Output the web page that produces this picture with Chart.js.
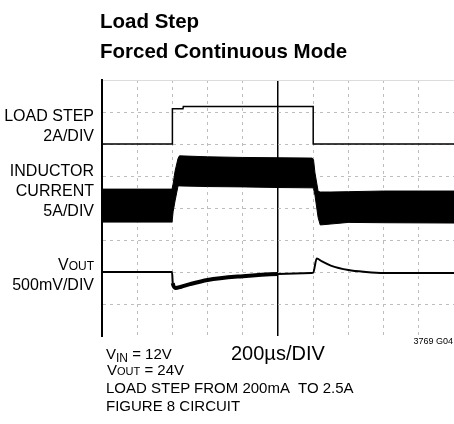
<!DOCTYPE html>
<html>
<head>
<meta charset="utf-8">
<script src="https://cdn.jsdelivr.net/npm/chart.js"></script>
<style>
    body { margin: 0; background: #fff; }
    #wrap { position: relative; width: 454px; height: 424px; font-family: "Liberation Sans", Arial, sans-serif; color: #000; }
    #wrap canvas { position: absolute; left: 0; top: 0; }
    .t { position: absolute; line-height: 1; white-space: nowrap; }
    .lbl { left: 0; width: 94px; text-align: right; font-size: 16px; }
    .sm { font-size: 12px; }
</style>
</head>
<body>
<div id="wrap">
    <canvas id="scope" width="454" height="424"></canvas>

    <div class="t" style="left:100px; top:10.6px; font-size:20.5px; font-weight:bold;">Load Step</div>
    <div class="t" style="left:100px; top:40.6px; font-size:20.5px; font-weight:bold;">Forced Continuous Mode</div>

    <div class="t lbl" style="top:107.5px;">LOAD STEP</div>
    <div class="t lbl" style="top:127.5px;">2A/DIV</div>
    <div class="t lbl" style="top:162.5px;">INDUCTOR</div>
    <div class="t lbl" style="top:182.5px;">CURRENT</div>
    <div class="t lbl" style="top:202.5px;">5A/DIV</div>
    <div class="t lbl" style="top:256.5px;">V<span class="sm">OUT</span></div>
    <div class="t lbl" style="top:276.5px;">500mV/DIV</div>

    <div class="t" style="left:106px; top:346.3px; font-size:15px;">V<sub style="font-size:12px; vertical-align:-3px;">IN</sub> = 12V</div>
    <div class="t" style="left:107px; top:362.3px; font-size:15px;">V<span style="font-size:11px;">OUT</span> = 24V</div>
    <div class="t" style="left:106px; top:380.3px; font-size:15px;">LOAD STEP FROM 200mA&nbsp; TO 2.5A</div>
    <div class="t" style="left:106px; top:398.3px; font-size:15px;">FIGURE 8 CIRCUIT</div>
    <div class="t" style="left:231px; top:343px; font-size:20px;">200µs/DIV</div>
    <div class="t" style="right:1px; top:337.4px; font-size:9px;">3769 G04</div>
</div>
<script>
// tiempo en µs (200µs/DIV), valores en divisiones de pantalla (0 abajo, 8 arriba)
const loadT = [0, 400, 400, 460, 462, 1200, 1200, 2000];
const loadV = [6.0, 6.0, 7.1, 7.1, 7.17, 7.17, 6.0, 6.0];

const bandT = [0, 398, 404, 415, 432, 440, 600, 800, 1000, 1195, 1202, 1210, 1228, 1240, 1300, 1400, 1600, 2000];
const bandTop = [4.59, 4.59, 4.75, 5.15, 5.55, 5.63, 5.6, 5.58, 5.57, 5.56, 5.5, 5.1, 4.52, 4.5, 4.5, 4.51, 4.53, 4.53];
const bandBot = [3.56, 3.56, 3.88, 4.22, 4.69, 4.69, 4.67, 4.66, 4.64, 4.63, 4.6, 4.4, 3.7, 3.47, 3.5, 3.55, 3.54, 3.53];

const voutT = [0, 398, 402, 418, 450, 500, 600, 800, 1000, 1190, 1200, 1220, 1250, 1300, 1400, 1500, 1600, 2000];
const voutV = [2.0, 2.0, 1.65, 1.5, 1.54, 1.62, 1.75, 1.87, 1.94, 1.97, 1.98, 2.42, 2.33, 2.2, 2.06, 2.0, 1.97, 1.97];

const xDivs = 10, yDivs = 8, usPerDiv = 200;

function puntos(ts, vs) {
    return ts.map((t, i) => ({ x: t, y: vs[i] }));
}

const gridGris = '#bdbdbd';

new Chart(document.getElementById('scope'), {
    type: 'line',
    data: {
        datasets: [
            {
                data: puntos(loadT, loadV),
                borderColor: '#000',
                borderWidth: 1.5,
                pointRadius: 0,
                fill: false
            },
            {
                data: puntos(bandT, bandTop),
                borderColor: '#000',
                borderWidth: 1,
                backgroundColor: '#000',
                pointRadius: 0,
                fill: '+1'
            },
            {
                data: puntos(bandT, bandBot),
                borderColor: '#000',
                borderWidth: 1,
                pointRadius: 0,
                fill: false
            },
            {
                data: puntos(voutT, voutV),
                borderColor: '#000',
                borderWidth: 2,
                pointRadius: 0,
                cubicInterpolationMode: 'monotone',
                fill: false,
                segment: {
                    // la traza es más gruesa durante la recuperación
                    borderWidth: ctx => (ctx.p0.parsed.x >= 402 && ctx.p0.parsed.x < 1000) ? 4 : 2
                }
            }
        ]
    },
    options: {
        responsive: false,
        animation: false,
        events: [],
        layout: {
            autoPadding: false,
            padding: { left: 102, top: 80, right: 0, bottom: 88 }
        },
        plugins: {
            legend: { display: false },
            tooltip: { enabled: false }
        },
        scales: {
            x: {
                type: 'linear',
                min: 0,
                max: xDivs * usPerDiv,
                ticks: { display: false, stepSize: usPerDiv },
                grid: {
                    drawTicks: false,
                    color: ctx => {
                        const v = ctx.tick ? ctx.tick.value : -1;
                        if (v === 0) return 'rgba(0,0,0,0)';
                        if (v === 1000) return '#000';
                        return gridGris;
                    },
                    lineWidth: ctx => (ctx.tick && ctx.tick.value === 1000) ? 1.5 : 1
                },
                border: {
                    display: false,
                    dash: ctx => (ctx.tick && ctx.tick.value === 1000) ? [] : [3, 4]
                }
            },
            y: {
                type: 'linear',
                min: 0,
                max: yDivs,
                ticks: { display: false, stepSize: 1 },
                grid: {
                    drawTicks: false,
                    color: ctx => {
                        const v = ctx.tick ? ctx.tick.value : -1;
                        if (v === 0) return 'rgba(0,0,0,0)';
                        if (v === 8) return '#dcdcdc';
                        return gridGris;
                    }
                },
                border: {
                    display: true,
                    color: '#000',
                    width: 2,
                    dash: ctx => (ctx.tick && ctx.tick.value === 8) ? [] : [3, 4]
                }
            }
        }
    }
});
</script>
</body>
</html>
